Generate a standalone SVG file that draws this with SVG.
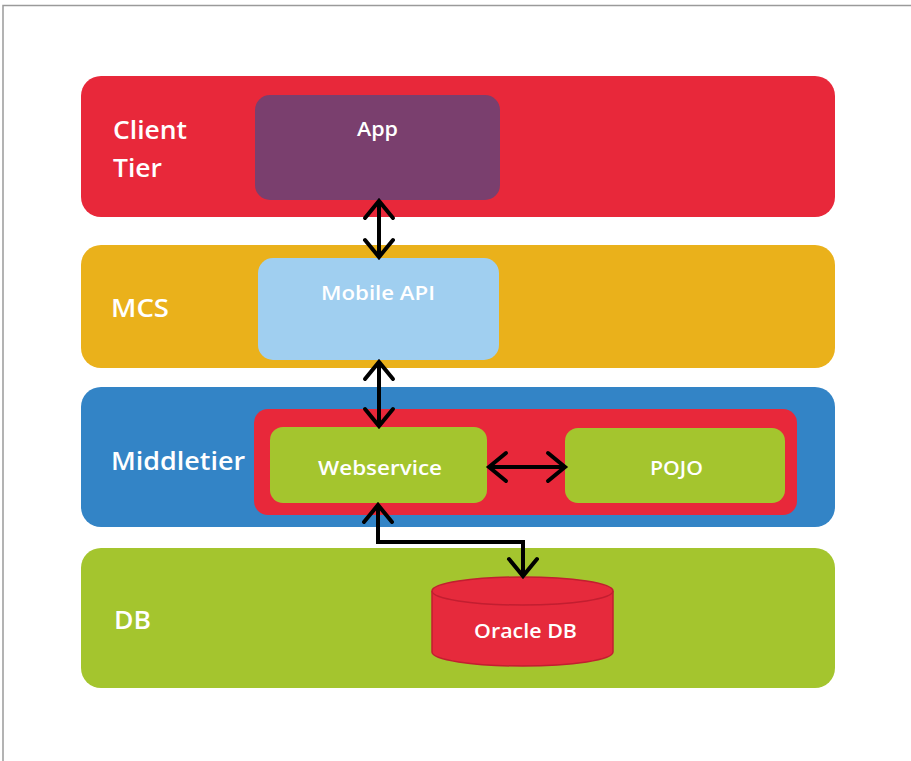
<svg xmlns="http://www.w3.org/2000/svg" width="911" height="761" viewBox="0 0 911 761">
  <defs>
    <marker id="arr" markerUnits="userSpaceOnUse" markerWidth="40" markerHeight="40" viewBox="-20 -20 40 40" refX="0" refY="0" orient="auto-start-reverse" overflow="visible">
      <path d="M-17,-14 L0,0 L-17,14" fill="none" stroke="#000" stroke-width="4" stroke-linejoin="miter" stroke-linecap="round"/>
    </marker>
  </defs>
  <style>
    .band-label { font-family: "Open Sans", "Liberation Sans", sans-serif; font-size: 25px; font-weight: 600; fill: #fff; }
    .box-label { font-family: "Open Sans", "Liberation Sans", sans-serif; font-size: 19px; font-weight: 600; fill: #fff; }
    .conn { fill: none; stroke: #000; stroke-width: 4; marker-start: url(#arr); marker-end: url(#arr); }
  </style>
  <rect x="0" y="0" width="911" height="761" fill="#fff"/>
  <path d="M3,761 L3,5.5 L911,5.5" fill="none" stroke="#9a9a9a" stroke-width="1.5"/>

  <g id="client-tier">
    <rect x="81" y="76" width="754" height="141" rx="20" fill="#E8283A"/>
    <text class="band-label" x="113" y="139" textLength="74" lengthAdjust="spacingAndGlyphs">Client</text>
    <text class="band-label" x="113" y="177" textLength="49" lengthAdjust="spacingAndGlyphs">Tier</text>
  </g>
  <g id="app">
    <rect x="255" y="95" width="245" height="105" rx="15" fill="#7A3F6E"/>
    <text class="box-label" x="357" y="136" textLength="41" lengthAdjust="spacingAndGlyphs">App</text>
  </g>

  <g id="mcs">
    <rect x="81" y="245" width="754" height="123" rx="20" fill="#EAB11B"/>
    <text class="band-label" x="111" y="317" textLength="58" lengthAdjust="spacingAndGlyphs">MCS</text>
  </g>
  <g id="mobile-api">
    <rect x="258" y="258" width="241" height="102" rx="15" fill="#A0CFF0"/>
    <text class="box-label" x="321" y="300" textLength="114" lengthAdjust="spacingAndGlyphs">Mobile API</text>
  </g>

  <g id="middletier">
    <rect x="81" y="387" width="754" height="140" rx="20" fill="#3384C6"/>
    <text class="band-label" x="111" y="470" textLength="134" lengthAdjust="spacingAndGlyphs">Middletier</text>
  </g>
  <g id="middletier-container">
    <rect x="254" y="409" width="543" height="106" rx="14" fill="#E8283A"/>
  </g>
  <g id="webservice">
    <rect x="270" y="427" width="217" height="76" rx="13" fill="#A4C52E"/>
    <text class="box-label" x="318" y="475" textLength="124" lengthAdjust="spacingAndGlyphs">Webservice</text>
  </g>
  <g id="pojo">
    <rect x="565" y="428" width="220" height="75" rx="13" fill="#A4C52E"/>
    <text class="box-label" x="650" y="475" textLength="53" lengthAdjust="spacingAndGlyphs">POJO</text>
  </g>

  <g id="db">
    <rect x="81" y="548" width="754" height="140" rx="20" fill="#A4C52E"/>
    <text class="band-label" x="114" y="629" textLength="37" lengthAdjust="spacingAndGlyphs">DB</text>
  </g>
  <g id="oracle-db">
    <path d="M432,591 L432,652 A90.5,14 0 0 0 613,652 L613,591" fill="#E62A3C" stroke="#C21E30" stroke-width="1.5"/>
    <ellipse cx="522.5" cy="591" rx="90.5" ry="14" fill="#E62A3C" stroke="#C21E30" stroke-width="1.5"/>
    <text class="box-label" x="474" y="638" textLength="103" lengthAdjust="spacingAndGlyphs">Oracle DB</text>
  </g>

  <g id="connectors">
    <path class="conn" d="M379,201 L379,257"/>
    <path class="conn" d="M379,362 L379,426"/>
    <path class="conn" d="M489,467 L565,467"/>
    <path class="conn" d="M378,505 L378,542 L523,542 L523,576"/>
  </g>
</svg>
